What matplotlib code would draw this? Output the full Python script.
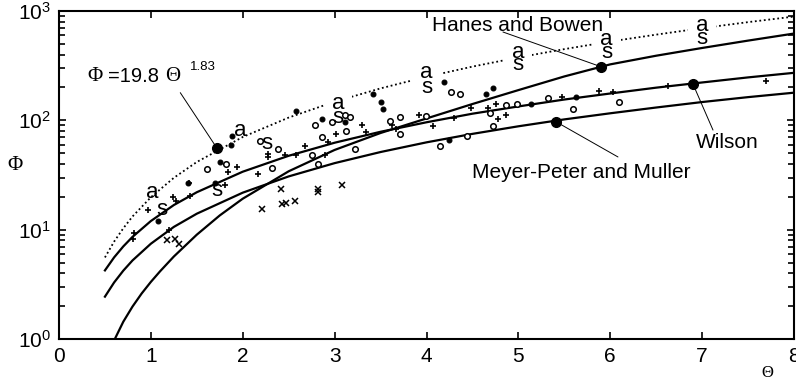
import matplotlib
matplotlib.use("Agg")
import matplotlib.pyplot as plt
from matplotlib.ticker import LogLocator, NullFormatter

plt.rcParams['font.family'] = ['Liberation Sans', 'DejaVu Sans']
plt.rcParams['mathtext.default'] = 'regular'

# ---------------- data ----------------
# Curves
fit_theta = [0.5, 0.6, 0.7, 0.8, 1.0, 1.25, 1.5, 2.0, 2.5, 3.0, 3.5, 4.0, 4.5, 5.0, 5.5, 6.0, 6.5, 7.0, 7.5, 8.0]
fit_phi = [5.57, 7.78, 10.3, 13.2, 19.8, 29.8, 41.6, 70.4, 106, 148, 196, 250, 310, 376, 448, 526, 608, 697, 791, 889]

mpm_theta = [0.5, 0.6, 0.7, 0.8, 1.0, 1.25, 1.5, 2.0, 2.5, 3.0, 3.5, 4.0, 4.5, 5.0, 5.5, 6.0, 6.5, 7.0, 7.5, 8.0]
mpm_phi = [2.44, 3.29, 4.22, 5.23, 7.44, 10.6, 14.0, 21.8, 30.7, 40.6, 51.3, 62.9, 75.2, 88.2, 102, 116, 131, 147, 163, 179]

wil_theta = [0.5, 0.6, 0.7, 0.8, 1.0, 1.25, 1.5, 2.0, 2.5, 3.0, 3.5, 4.0, 4.5, 5.0, 5.5, 6.0, 6.5, 7.0, 7.5, 8.0]
wil_phi = [4.24, 5.58, 7.03, 8.59, 12.0, 16.8, 22.0, 33.9, 47.4, 62.4, 78.6, 96.0, 115, 134, 155, 176, 199, 222, 247, 272]

hb_theta = [0.6, 0.7, 0.8, 0.9, 1.0, 1.1, 1.25, 1.5, 1.75, 2.0, 2.5, 3.0, 3.5, 4.0, 4.5, 5.0, 5.5, 6.0, 6.5, 7.0, 7.5, 8.0]
hb_phi = [0.97, 1.44, 1.98, 2.61, 3.33, 4.16, 5.68, 9.0, 13.5, 19.2, 34.2, 53.6, 76.6, 104, 141, 189, 252, 325, 390, 459, 536, 622]

# Data points
plus_theta = [0.80, 0.82, 0.97, 1.20, 1.24, 1.27, 1.41, 1.43, 1.81, 1.84, 1.94, 2.17, 2.27, 2.27, 2.46,
              2.58, 2.68, 2.89, 2.93, 3.02, 3.30, 3.34, 3.62, 3.67, 3.92, 4.07, 4.30, 4.48, 4.67, 4.76,
              4.78, 4.87, 5.48, 5.88, 6.03, 6.63, 7.70]
plus_phi = [8.3, 9.3, 15.0, 10.0, 20.0, 18.4, 27.0, 20.2, 25.5, 33.7, 37.6, 32.6, 49.0, 46.0, 47.8,
            47.8, 58.0, 47.8, 63.0, 75.0, 90.0, 78.5, 90.0, 84.0, 113, 89.0, 106, 129, 130, 142,
            103, 113, 163, 185, 181, 205, 230]

circ_theta = [1.61, 1.82, 2.19, 2.32, 2.38, 2.75, 2.79, 2.82, 2.86, 2.97, 3.12, 3.11, 3.17, 3.22, 3.60,
              3.71, 3.71, 3.99, 4.15, 4.27, 4.36, 4.44, 4.69, 4.72, 4.87, 4.98, 5.32, 5.59, 6.10]
circ_phi = [36.2, 39.7, 65.0, 36.6, 55.0, 47.8, 90.0, 40.0, 70.0, 96.5, 80.0, 111, 107, 54.5, 98.5,
            107, 74.6, 108.5, 58.0, 181, 175, 71.5, 117, 88.0, 137, 142, 160, 128, 147]

star_theta = [1.08, 1.40, 1.70, 1.75, 1.88, 1.87, 2.58, 2.86, 3.11, 3.42, 3.51, 3.53, 4.19, 4.25,
              4.65, 4.72, 5.14, 5.63]
star_phi = [12.0, 26.7, 27.0, 41.6, 72.5, 59.2, 123, 103, 96.5, 173, 147, 128, 222, 66.5,
            175, 198, 141, 163]

cross_theta = [1.18, 1.26, 1.31, 2.21, 2.43, 2.47, 2.57, 2.42, 2.82, 2.82, 3.08]
cross_phi = [8.0, 8.3, 7.4, 15.3, 17.3, 17.6, 18.4, 23.5, 23.7, 22.2, 25.8]

# 'a' / 's' labels
a_theta = [1.02, 1.97, 3.04, 4.00, 5.00, 5.96, 7.00]
a_phi = [22.0, 81.0, 143, 274, 417, 549, 738]
a_gap = [False, False, True, True, True, True, True]
s_theta = [1.12, 1.72, 2.26, 3.04, 4.00, 5.00, 5.96, 7.00]
s_phi = [15.4, 23.0, 61.6, 107, 199, 324, 418, 561]

# Highlighted points on the curves
dot_theta = [1.72, 5.90, 6.90, 5.41]
dot_phi = [55.5, 309, 215, 97]

# ---------------- figure ----------------
fig = plt.figure(figsize=(7.96, 3.81), dpi=100)
ax = fig.add_axes([59 / 796, 1 - 339 / 381, 735 / 796, 328 / 381])
ax.set_yscale('log')
ax.set_xlim(0, 8)
ax.set_ylim(1, 1000)

ax.plot(fit_theta, fit_phi, color='black', ls=(0, (1, 1.5)), lw=1.3, zorder=1.5)
ax.plot(mpm_theta, mpm_phi, color='black', lw=1.6, zorder=3)
ax.plot(wil_theta, wil_phi, color='black', lw=1.6, zorder=3)
ax.plot(hb_theta, hb_phi, color='black', lw=1.6, zorder=3)

ax.plot(plus_theta, plus_phi, ls='none', marker='+', ms=5, mew=1.2, color='black', zorder=4)
ax.plot(circ_theta, circ_phi, ls='none', marker='o', ms=4, mew=1.1, mfc='white', mec='black', zorder=4)
ax.plot(star_theta, star_phi, ls='none', marker='o', ms=3.5, mew=0.8, color='black', zorder=4)
ax.plot(cross_theta, cross_phi, ls='none', marker='x', ms=4.2, mew=1.1, color='black', zorder=4)
ax.plot(dot_theta, dot_phi, ls='none', marker='o', ms=7, color='black', zorder=5)

for t, p, g in zip(a_theta, a_phi, a_gap):
    kw = dict(ha='center', va='center', fontsize=16, zorder=2)
    if g:
        kw['bbox'] = dict(boxstyle='square,pad=0.35', fc='white', ec='none')
    ax.text(t, p, 'a', **kw)
for t, p in zip(s_theta, s_phi):
    ax.text(t, p, 's', ha='center', va='center', fontsize=16, zorder=4.5)

# annotations
serif = ['Liberation Serif', 'DejaVu Serif']
ax.text(0.038, 0.799, 'Φ', transform=ax.transAxes, fontsize=15, family=serif, ha='left', va='center')
ax.text(0.067, 0.799, '=19.8', transform=ax.transAxes, fontsize=14.5, ha='left', va='center')
ax.text(0.144, 0.799, 'Θ', transform=ax.transAxes, fontsize=15, family=serif, ha='left', va='center')
ax.text(0.178, 0.828, '1.83', transform=ax.transAxes, fontsize=9.5, ha='left', va='center')
ax.annotate('', xy=(dot_theta[0], dot_phi[0]), xycoords='data', xytext=(0.165, 0.751),
            textcoords='axes fraction', arrowprops=dict(arrowstyle='-', lw=0.7, color='black',
                                                         shrinkA=0, shrinkB=0))

ax.text(0.6245, 0.957, 'Hanes and Bowen', transform=ax.transAxes, fontsize=15, ha='center', va='center')
ax.annotate('', xy=(dot_theta[1], dot_phi[1]), xycoords='data', xytext=(0.604, 0.936),
            textcoords='axes fraction', arrowprops=dict(arrowstyle='-', lw=0.7, color='black',
                                                         shrinkA=0, shrinkB=0))
ax.text(0.909, 0.600, 'Wilson', transform=ax.transAxes, fontsize=15, ha='center', va='center')
ax.annotate('', xy=(dot_theta[2], dot_phi[2]), xycoords='data', xytext=(0.8898, 0.637),
            textcoords='axes fraction', arrowprops=dict(arrowstyle='-', lw=0.7, color='black',
                                                         shrinkA=0, shrinkB=0))
ax.text(0.711, 0.509, 'Meyer-Peter and Muller', transform=ax.transAxes, fontsize=15, ha='center', va='center')
ax.annotate('', xy=(dot_theta[3], dot_phi[3]), xycoords='data', xytext=(0.7605, 0.555),
            textcoords='axes fraction', arrowprops=dict(arrowstyle='-', lw=0.7, color='black',
                                                         shrinkA=0, shrinkB=0))

# axes styling
ax.set_xticks(range(0, 9))
ax.yaxis.set_major_locator(LogLocator(base=10, numticks=10))
ax.yaxis.set_minor_locator(LogLocator(base=10, subs=range(2, 10), numticks=20))
ax.yaxis.set_minor_formatter(NullFormatter())
ax.tick_params(which='both', direction='in', top=True, right=True, labelsize=15, width=1.2, color='black')
ax.tick_params(which='major', length=5, pad=6)
ax.tick_params(which='minor', length=4)
for s in ax.spines.values():
    s.set_linewidth(1.5)

fig.text(15 / 796, 1 - 165 / 381, 'Φ', family=serif, fontsize=15, ha='center', va='center')
fig.text(767 / 796, 1 - 373 / 381, 'Θ', family=serif, fontsize=12, ha='center', va='center')

fig.savefig('out.png', dpi=100)
